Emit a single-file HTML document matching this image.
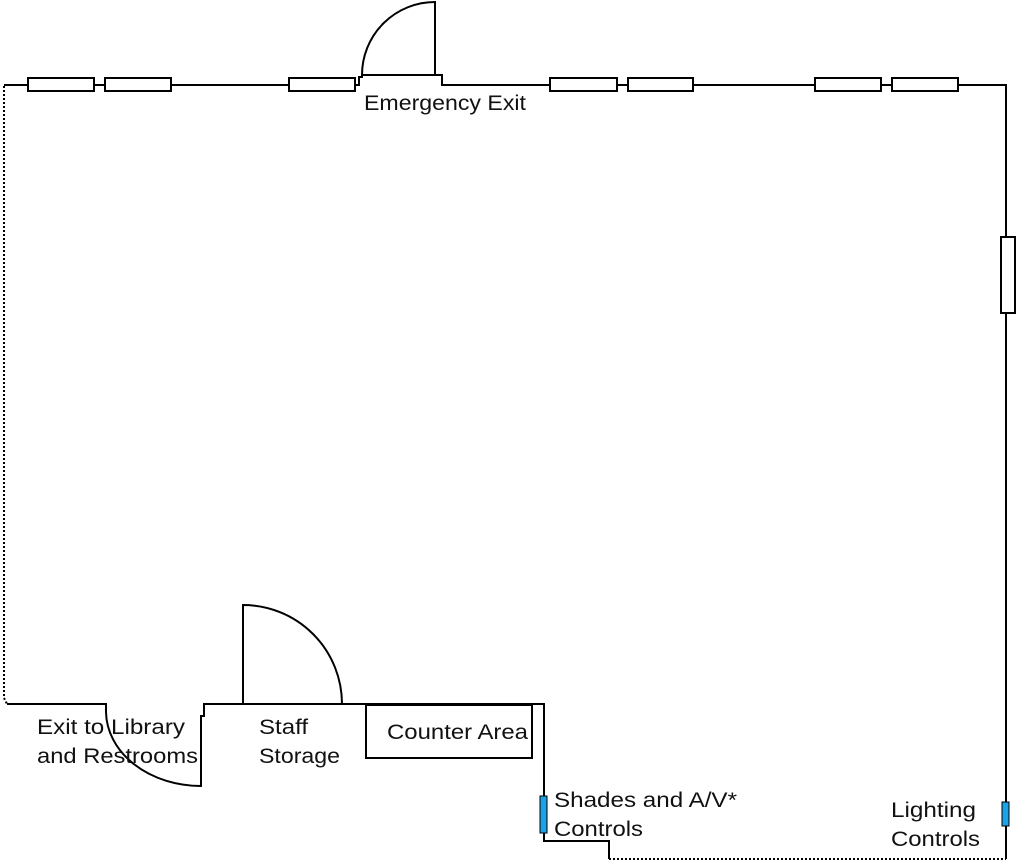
<!DOCTYPE html>
<html><head><meta charset="utf-8"><style>
html,body{margin:0;padding:0;background:#fff;width:1020px;height:863px;overflow:hidden}
svg text{font-family:"Liberation Sans",sans-serif;font-size:21px;fill:#111}
</style></head><body>
<svg width="1020" height="863" viewBox="0 0 1020 863" xmlns="http://www.w3.org/2000/svg">
<g fill="none" stroke="#000" stroke-width="2">
<path d="M4 85 H359 V77 H362 V75 H442 V85 H1006 V859"/>
<path d="M435 75 V2 A73 73 0 0 0 362 75"/>
<g fill="#fff">
<rect x="28" y="78" width="66" height="13"/>
<rect x="105" y="78" width="66" height="13"/>
<rect x="289" y="78" width="66" height="13"/>
<rect x="550" y="78" width="67" height="13"/>
<rect x="628" y="78" width="65" height="13"/>
<rect x="815" y="78" width="66" height="13"/>
<rect x="892" y="78" width="66" height="13"/>
<rect x="1001" y="237" width="14" height="76"/>
</g>
<path d="M4 86 V698 L7 704" stroke-dasharray="2 2"/>
<path d="M7 704 H106 V712"/>
<path d="M106 712 A95 75 0 0 0 201 786 V716 H204 V704 H544 V841 H609 V859"/>
<path d="M243 704 V605 A99 99 0 0 1 342 704"/>
<rect x="366" y="705" width="166" height="53"/>
<path d="M609 859 H1006" stroke-dasharray="2 2"/>
</g>
<rect x="540" y="796" width="7" height="37" fill="#1aa3e8" stroke="#000" stroke-width="1"/>
<rect x="1002" y="802" width="7" height="24" fill="#1aa3e8" stroke="#000" stroke-width="1"/>
<g lengthAdjust="spacingAndGlyphs">
<text x="364" y="110" textLength="162" lengthAdjust="spacingAndGlyphs">Emergency Exit</text>
<text x="37" y="734" textLength="148" lengthAdjust="spacingAndGlyphs">Exit to Library</text>
<text x="37" y="763" textLength="161" lengthAdjust="spacingAndGlyphs">and Restrooms</text>
<text x="259" y="734" textLength="49" lengthAdjust="spacingAndGlyphs">Staff</text>
<text x="259" y="763" textLength="81" lengthAdjust="spacingAndGlyphs">Storage</text>
<text x="387" y="739" textLength="141" lengthAdjust="spacingAndGlyphs">Counter Area</text>
<text x="554" y="807" textLength="183" lengthAdjust="spacingAndGlyphs">Shades and A/V*</text>
<text x="554" y="836" textLength="89" lengthAdjust="spacingAndGlyphs">Controls</text>
<text x="891" y="817" textLength="85" lengthAdjust="spacingAndGlyphs">Lighting</text>
<text x="891" y="846" textLength="89" lengthAdjust="spacingAndGlyphs">Controls</text>
</g>
</svg>
</body></html>
